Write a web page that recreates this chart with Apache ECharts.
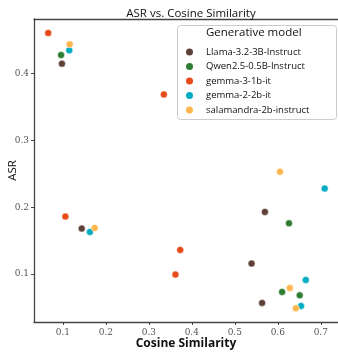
<!DOCTYPE html>
<html><head><meta charset="utf-8">
<script src="https://cdn.jsdelivr.net/npm/echarts@6/dist/echarts.min.js"></script>
<style>html,body{margin:0;padding:0;background:#fff}#c{width:338px;height:355px}</style>
</head><body><div id="c"></div>
<script>
const seriesNames = ["Llama-3.2-3B-Instruct","Qwen2.5-0.5B-Instruct","gemma-3-1b-it","gemma-2-2b-it","salamandra-2b-instruct"];
const colors = ["#5D4037","#2E7D32","#E64A19","#00ACC1","#FFB74D"];
const llama = [[0.098,0.415],[0.144,0.168],[0.570,0.193],[0.539,0.1155],[0.5635,0.0566]];
const qwen = [[0.096,0.428],[0.626,0.176],[0.610,0.073],[0.651,0.068]];
const gemma3 = [[0.066,0.461],[0.335,0.369],[0.106,0.186],[0.373,0.136],[0.362,0.099]];
const gemma2 = [[0.115,0.435],[0.163,0.163],[0.709,0.228],[0.665,0.091],[0.654,0.052]];
const salamandra = [[0.116,0.444],[0.174,0.169],[0.605,0.253],[0.628,0.079],[0.642,0.0487]];
const allData = [llama,qwen,gemma3,gemma2,salamandra];
const xTicks = [0.1,0.2,0.3,0.4,0.5,0.6,0.7];
const yTicks = [0.1,0.2,0.3,0.4];

const chart = echarts.init(document.getElementById('c'));
const axisColor = '#444';
const tickFont = {fontFamily:'DejaVu Serif', fontSize:9, color:'#555'};
chart.setOption({
  animation:false,
  title:{text:'ASR vs. Cosine Similarity', left:186, top:3, textAlign:'center',
    textStyle:{fontFamily:'Open Sans', fontWeight:'normal', fontSize:11.5, color:'#111'}},
  grid:{left:34, right:0, top:19, bottom:33, containLabel:false, outerBoundsMode:'none'},
  xAxis:[{type:'value', min:0.033, max:0.740, interval:0.1,
    name:'Cosine Similarity', nameLocation:'middle', nameGap:16, nameMoveOverlap:false,
    nameTextStyle:{fontFamily:'Open Sans', fontWeight:'bold', fontSize:12, color:'#111'},
    axisLine:{show:true, lineStyle:{color:axisColor, width:1.3}},
    axisTick:{show:true, length:3, lineStyle:{color:axisColor}, customValues:xTicks},
    axisLabel:Object.assign({margin:6, customValues:xTicks, formatter:v=>v.toFixed(1)}, tickFont),
    splitLine:{show:false}},
   {type:'value', position:'top', min:0.033, max:0.740,
    axisLine:{show:true, onZero:false, lineStyle:{color:axisColor, width:1.3}},
    axisTick:{show:false}, axisLabel:{show:false}, splitLine:{show:false}}],
  yAxis:{type:'value', min:0.028, max:0.482,
    name:'ASR', nameLocation:'middle', nameGap:15, nameRotate:90, nameMoveOverlap:false,
    nameTextStyle:{fontFamily:'Open Sans', fontSize:11.5, color:'#111'},
    axisLine:{show:true, lineStyle:{color:axisColor, width:1.3}},
    axisTick:{show:true, length:3, lineStyle:{color:axisColor}, customValues:yTicks},
    axisLabel:Object.assign({margin:5, customValues:yTicks, formatter:v=>v.toFixed(1)}, tickFont),
    splitLine:{show:false}},
  legend:{left:181, top:42, orient:'vertical', itemGap:4.5, itemWidth:7, itemHeight:7,
    icon:'circle', itemStyle:{borderWidth:0},
    textStyle:{fontFamily:'Open Sans', fontSize:9.5, color:'#111', padding:[0,0,0,8]},
    data:seriesNames},
  graphic:[
    {type:'rect', left:177, top:25, z:0, shape:{width:159, height:94, r:3},
      style:{fill:'#fff', stroke:'#ccc', lineWidth:1}},
    {type:'text', left:206, top:27, z:10, style:{text:'Generative model',
      font:'11.5px "Open Sans"', fill:'#111'}}
  ],
  series: allData.map((d,i)=>({
    type:'scatter', name:seriesNames[i], data:d, symbolSize:7,
    itemStyle:{color:colors[i], borderColor:'#fff', borderWidth:0.5, opacity:1}
  }))
});
</script></body></html>
